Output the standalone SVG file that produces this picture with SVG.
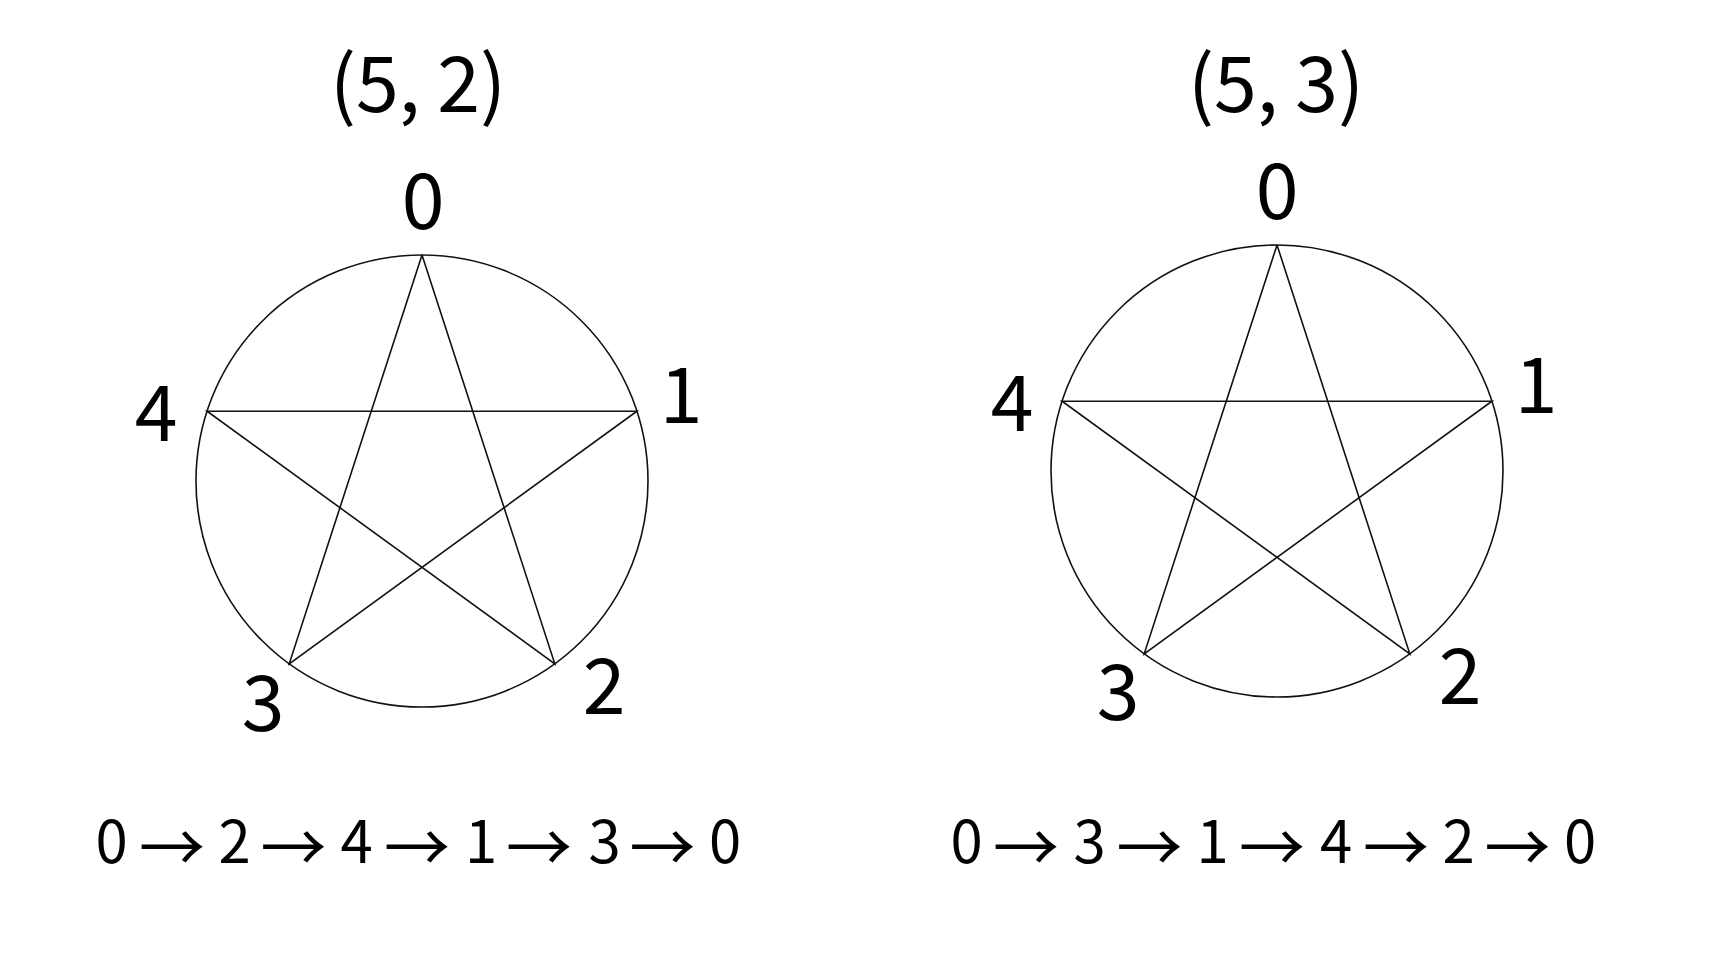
<svg xmlns="http://www.w3.org/2000/svg" width="1720" height="968" viewBox="0 0 1720 968">
<style>
.t{font-family:"Noto Sans CJK JP","Noto Sans",sans-serif;fill:#000;text-anchor:middle}
.big{font-size:77px}
.seq{font-size:58px}
.ar{font-size:66px}
.edge{stroke:#111;stroke-width:1.6;fill:none}
</style>
<rect width="1720" height="968" fill="#fff"/>
<g id="title-left"><text class="t big" x="418" y="112">(5, 2)</text></g>
<g id="title-right"><text class="t big" x="1276" y="112">(5, 3)</text></g>
<g id="circle-left"><circle class="edge" cx="422" cy="481" r="226"/></g>
<g id="circle-right"><circle class="edge" cx="1277" cy="471" r="226"/></g>
<g id="connectors">
<polyline class="edge" points="422,255 554.8,663.8 207.1,411.2 636.9,411.2 289.2,663.8 422,255"/>
<polyline class="edge" points="1277,245 1144.2,653.8 1491.9,401.2 1062.1,401.2 1409.8,653.8 1277,245"/>
</g>
<g id="L0"><text class="t big" x="423" y="229">0</text></g>
<g id="L1"><text class="t big" x="681" y="423">1</text></g>
<g id="L2"><text class="t big" x="604" y="714">2</text></g>
<g id="L3"><text class="t big" x="263" y="731">3</text></g>
<g id="L4"><text class="t big" x="156" y="441">4</text></g>
<g id="R0"><text class="t big" x="1277" y="219">0</text></g>
<g id="R1"><text class="t big" x="1536" y="413">1</text></g>
<g id="R2"><text class="t big" x="1460" y="704">2</text></g>
<g id="R3"><text class="t big" x="1118" y="720">3</text></g>
<g id="R4"><text class="t big" x="1012" y="431">4</text></g>
<g id="seq-left"><text class="t seq"><tspan x="111.5" y="863">0</tspan><tspan class="ar" x="172" y="872">→</tspan><tspan x="234.5" y="863">2</tspan><tspan class="ar" x="293.5" y="872">→</tspan><tspan x="356.5" y="863">4</tspan><tspan class="ar" x="417" y="872">→</tspan><tspan x="481" y="863">1</tspan><tspan class="ar" x="539" y="872">→</tspan><tspan x="604.5" y="863">3</tspan><tspan class="ar" x="662.5" y="872">→</tspan><tspan x="725" y="863">0</tspan></text></g>
<g id="seq-right"><text class="t seq"><tspan x="966.5" y="863">0</tspan><tspan class="ar" x="1026" y="872">→</tspan><tspan x="1089.5" y="863">3</tspan><tspan class="ar" x="1149.5" y="872">→</tspan><tspan x="1212.5" y="863">1</tspan><tspan class="ar" x="1272" y="872">→</tspan><tspan x="1336" y="863">4</tspan><tspan class="ar" x="1396" y="872">→</tspan><tspan x="1458.5" y="863">2</tspan><tspan class="ar" x="1517.5" y="872">→</tspan><tspan x="1580" y="863">0</tspan></text></g>
</svg>
